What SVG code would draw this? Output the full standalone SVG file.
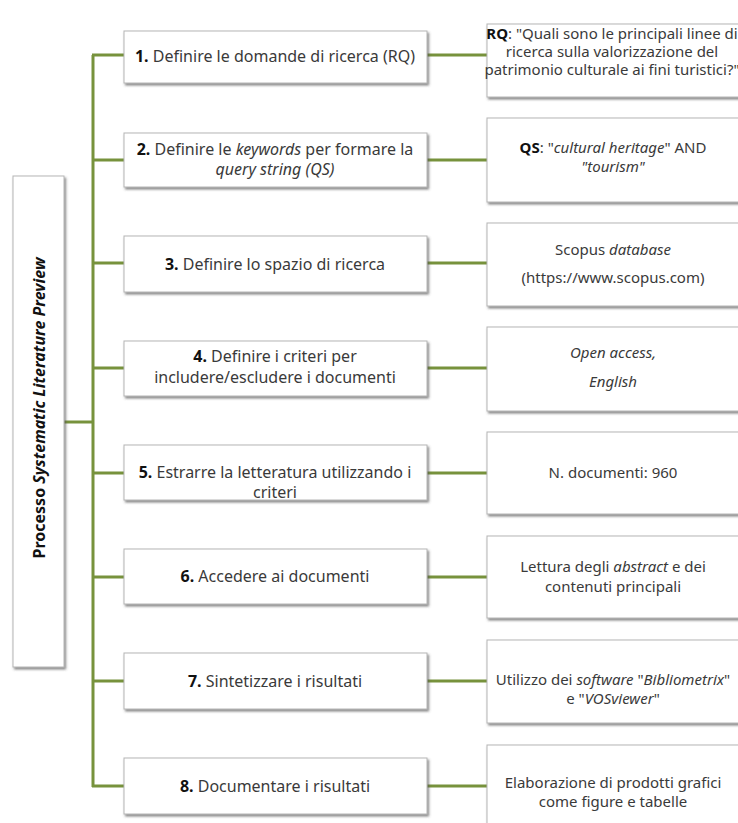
<svg xmlns="http://www.w3.org/2000/svg" width="738" height="823" viewBox="0 0 738 823">
<defs>
<filter id="sh" x="-5%" y="-5%" width="115%" height="125%">
<feDropShadow dx="1.5" dy="2" stdDeviation="1" flood-color="#555" flood-opacity="0.7"/>
</filter>
</defs>
<style>
.box{fill:#fff;stroke:#b5b5b5;stroke-width:1;filter:url(#sh)}
.t{font-family:"Noto Sans","Open Sans",sans-serif;font-size:16px;fill:#3a3a3a;text-anchor:middle}
.r{font-family:"Noto Sans","Open Sans",sans-serif;font-size:15px;fill:#3a3a3a;text-anchor:middle}
.b{font-weight:bold;fill:#111}
.i{font-style:italic}
.c{stroke:#77923c;stroke-width:3;fill:none}
</style>
<rect width="738" height="823" fill="#fff"/>
<g id="connectors">
<path class="c" d="M64,422 H93"/>
<path class="c" d="M93,55 V787"/>
<path class="c" d="M92,55 H124 M92,160 H124 M92,263 H124 M92,368 H124 M92,473 H124 M92,577 H124 M92,681 H124 M92,786 H124"/>
<path class="c" d="M427,55 H487 M427,160 H487 M427,263 H487 M427,368 H487 M427,473 H487 M427,577 H487 M427,681 H487 M427,786 H487"/>
</g>
<g id="root">
<rect class="box" x="13" y="176" width="51" height="491"/>
<text class="t b" transform="translate(45,408) rotate(-90)">Processo <tspan class="i">Systematic Literature Preview</tspan></text>
</g>
<g id="s1">
<rect class="box" x="124" y="31" width="303" height="52"/>
<text class="t" x="275" y="62"><tspan class="b">1.</tspan> Definire le domande di ricerca (RQ)</text>
</g>
<g id="s2">
<rect class="box" x="124" y="133" width="303" height="54"/>
<text class="t" x="275" y="155"><tspan class="b">2.</tspan> Definire le <tspan class="i">keywords</tspan> per formare la</text>
<text class="t i" x="275" y="175">query string (QS)</text>
</g>
<g id="s3">
<rect class="box" x="124" y="236" width="303" height="56"/>
<text class="t" x="275" y="270"><tspan class="b">3.</tspan> Definire lo spazio di ricerca</text>
</g>
<g id="s4">
<rect class="box" x="124" y="341" width="303" height="55"/>
<text class="t" x="275" y="362"><tspan class="b">4.</tspan> Definire i criteri per</text>
<text class="t" x="275" y="383">includere/escludere i documenti</text>
</g>
<g id="s5">
<rect class="box" x="124" y="445" width="303" height="55"/>
<text class="t" x="275" y="478"><tspan class="b">5.</tspan> Estrarre la letteratura utilizzando i</text>
<text class="t" x="275" y="498">criteri</text>
</g>
<g id="s6">
<rect class="box" x="124" y="549" width="303" height="55"/>
<text class="t" x="275" y="582"><tspan class="b">6.</tspan> Accedere ai documenti</text>
</g>
<g id="s7">
<rect class="box" x="124" y="653" width="303" height="56"/>
<text class="t" x="275" y="687"><tspan class="b">7.</tspan> Sintetizzare i risultati</text>
</g>
<g id="s8">
<rect class="box" x="124" y="758" width="303" height="56"/>
<text class="t" x="275" y="792"><tspan class="b">8.</tspan> Documentare i risultati</text>
</g>
<g id="r1">
<rect class="box" x="487" y="24" width="253" height="73"/>
<text class="r" x="612" y="39" font-size="14.5"><tspan class="b">RQ</tspan>: "Quali sono le principali linee di</text>
<text class="r" x="612" y="57" font-size="14.5">ricerca sulla valorizzazione del</text>
<text class="r" x="612" y="75" font-size="14.5">patrimonio culturale ai fini turistici?"</text>
</g>
<g id="r2">
<rect class="box" x="487" y="118" width="253" height="84"/>
<text class="r" x="613" y="153"><tspan class="b">QS</tspan>: "<tspan class="i">cultural heritage</tspan>" AND</text>
<text class="r i" x="613" y="172">"tourism"</text>
</g>
<g id="r3">
<rect class="box" x="487" y="223" width="253" height="83"/>
<text class="r" x="613" y="255">Scopus <tspan class="i">database</tspan></text>
<text class="r" x="613" y="283">(https://www.scopus.com)</text>
</g>
<g id="r4">
<rect class="box" x="487" y="327" width="253" height="84"/>
<text class="r i" x="613" y="358">Open access,</text>
<text class="r i" x="613" y="387">English</text>
</g>
<g id="r5">
<rect class="box" x="487" y="432" width="253" height="82"/>
<text class="r" x="613" y="478">N. documenti: 960</text>
</g>
<g id="r6">
<rect class="box" x="487" y="536" width="253" height="82"/>
<text class="r" x="613" y="572">Lettura degli <tspan class="i">abstract</tspan> e dei</text>
<text class="r" x="613" y="592">contenuti principali</text>
</g>
<g id="r7">
<rect class="box" x="487" y="640" width="253" height="83"/>
<text class="r" x="613" y="685">Utilizzo dei <tspan class="i">software</tspan> "<tspan class="i">Bibliometrix</tspan>"</text>
<text class="r" x="613" y="704">e "<tspan class="i">VOSviewer</tspan>"</text>
</g>
<g id="r8">
<rect class="box" x="487" y="745" width="253" height="84"/>
<text class="r" x="613" y="788">Elaborazione di prodotti grafici</text>
<text class="r" x="613" y="807">come figure e tabelle</text>
</g>
</svg>
